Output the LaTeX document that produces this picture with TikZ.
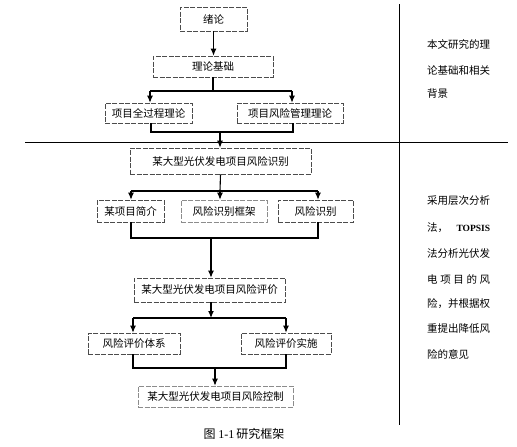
\documentclass[tikz,border=0pt]{standalone}
\usepackage{fontspec}
\setmainfont{Noto Sans CJK SC}
\newfontfamily\latinserif{Liberation Serif}
\usetikzlibrary{arrows.meta}
\begin{document}
\begin{tikzpicture}[x=1pt,y=-1pt,
  box/.style={draw=black!70, dash pattern=on 5pt off 1.5pt, line width=0.6pt, inner sep=0pt,
    font=\fontsize{10.5}{12}\selectfont},
  conn/.style={line width=1.1pt, draw=black},
  arr/.style={conn, -{Latex[length=7pt,width=6pt]}},
  divider/.style={line width=0.8pt, draw=black},
  side/.style={anchor=west, inner sep=0pt, font=\fontsize{10.5}{12}\selectfont}]
\useasboundingbox (0,0) rectangle (517,447);

% boxes
\node[box, minimum width=67pt, minimum height=24pt] (lun) at (213.5,19) {绪论};
\node[box, minimum width=120pt, minimum height=21pt] (jichu) at (213,66.5) {理论基础};
\node[box, minimum width=87pt, minimum height=20pt] (quan) at (148.5,113) {项目全过程理论};
\node[box, minimum width=106pt, minimum height=20pt] (fx) at (290,113) {项目风险管理理论};
\node[box, minimum width=181pt, minimum height=26pt] (shibie) at (220.5,161) {某大型光伏发电项目风险识别};
\node[box, minimum width=67pt, minimum height=22pt] (jianjie) at (130.5,211) {某项目简介};
\node[box, draw=black!45, minimum width=86pt, minimum height=22pt] (kuangjia) at (224,211) {风险识别框架};
\node[box, minimum width=75pt, minimum height=22pt] (sb2) at (315.5,211) {风险识别};
\node[box, minimum width=151pt, minimum height=24pt] (pingjia) at (209.5,290) {某大型光伏发电项目风险评价};
\node[box, minimum width=92pt, minimum height=21pt] (tixi) at (134,343.5) {风险评价体系};
\node[box, minimum width=90pt, minimum height=21pt] (shishi) at (286,343.5) {风险评价实施};
\node[box, draw=black!45, minimum width=155pt, minimum height=21pt] (kongzhi) at (215.5,396.5) {某大型光伏发电项目风险控制};

% connectors
\draw[arr] (lun.south) -- (lun.south |- jichu.north);
\coordinate (b1) at (213,91);
\coordinate (b1l) at (150,91);
\coordinate (b1r) at (292,91);
\draw[conn] (jichu.south) -- (b1);
\draw[conn] (b1l) -- (b1r);
\draw[arr] (b1l) -- (b1l |- quan.north);
\draw[arr] (b1r) -- (b1r |- fx.north);
\coordinate (m1l) at (151,132);
\coordinate (m1r) at (293,132);
\coordinate (m1c) at (220,132);
\draw[conn] (m1l |- quan.south) -- (m1l) -- (m1r) -- (m1r |- fx.south);
\draw[arr] (m1c) -- (m1c |- shibie.north);

\coordinate (b2c) at (220,191);
\coordinate (b2l) at (131,191);
\coordinate (b2r) at (318,191);
\draw[conn] (shibie.south) -- (b2c);
\draw[conn] (b2l) -- (b2r);
\draw[arr] (b2l) -- (b2l |- jianjie.north);
\draw[arr] (b2c) -- (b2c |- kuangjia.north);
\draw[arr] (b2r) -- (b2r |- sb2.north);
\coordinate (m2l) at (131,238);
\coordinate (m2r) at (318,238);
\coordinate (m2c) at (211,238);
\draw[conn] (m2l |- jianjie.south) -- (m2l) -- (m2r) -- (m2r |- sb2.south);
\draw[arr] (m2c) -- (m2c |- pingjia.north);

\coordinate (b3c) at (211,318);
\coordinate (b3l) at (133,318);
\coordinate (b3r) at (286,318);
\draw[arr] (pingjia.south -| b3c) -- (b3c);
\draw[conn] (b3l) -- (b3r);
\draw[arr] (b3l) -- (b3l |- tixi.north);
\draw[arr] (b3r) -- (b3r |- shishi.north);
\coordinate (m3l) at (133,368);
\coordinate (m3r) at (286,368);
\coordinate (m3c) at (215,368);
\draw[conn] (m3l |- tixi.south) -- (m3l) -- (m3r) -- (m3r |- shishi.south);
\draw[arr] (m3c) -- (m3c |- kongzhi.north);

% dividers
\coordinate (hl) at (25,142);
\coordinate (hr) at (508,142);
\coordinate (vt) at (399,4);
\coordinate (vb) at (399,425);
\draw[divider] (hl) -- (hr);
\draw[divider] (vt) -- (vb);

% side notes
\node[side] (t1) at (427,44) {本文研究的理};
\node[side] (t2) at (427,70) {论基础和相关};
\node[side] (t3) at (427,94) {背景};

\node[side] (s1) at (427,201) {\makebox[63pt][s]{采用层次分析}};
\node[side] (s2) at (427,228) {\makebox[63pt][s]{法，\hfill{\latinserif\bfseries\fontsize{9.5}{11}\selectfont TOPSIS}}};
\node[side] (s3) at (427,254) {\makebox[63pt][s]{法分析光伏发}};
\node[side] (s4) at (427,279) {\makebox[63pt][s]{电\hfill 项\hfill 目\hfill 的\hfill 风}};
\node[side] (s5) at (427,304) {\makebox[63pt][s]{险，并根据权}};
\node[side] (s6) at (427,329) {\makebox[63pt][s]{重提出降低风}};
\node[side] (s7) at (427,354) {险的意见};

% caption
\node[inner sep=0pt, font=\fontsize{12}{14}\selectfont] (cap) at (244,434) {图 {\latinserif 1-1}\,研究框架};
\end{tikzpicture}
\end{document}
